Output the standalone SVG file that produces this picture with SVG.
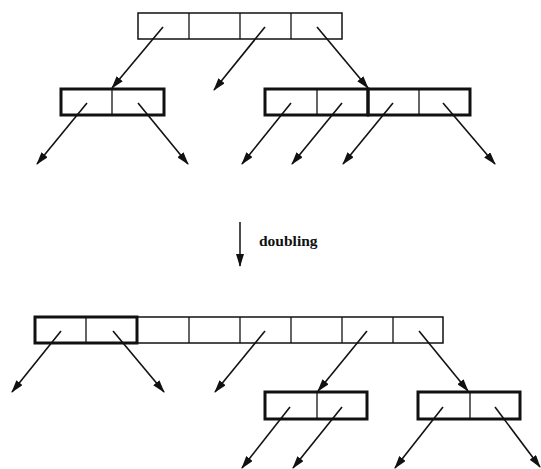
<svg xmlns="http://www.w3.org/2000/svg" width="541" height="469" viewBox="0 0 541 469">
<style>
.thin{fill:#fff;stroke:#111;stroke-width:1.5}
.thick{fill:none;stroke:#111;stroke-width:3}
.div{stroke:#111;stroke-width:1.3}
.edge{stroke:#111;stroke-width:1.6;fill:none;marker-end:url(#ah)}
.lbl{font-family:"Liberation Serif",serif;font-weight:bold;font-size:15.5px;fill:#111}
</style>
<defs>
<marker id="ah" markerUnits="userSpaceOnUse" markerWidth="13" markerHeight="8" refX="12" refY="4" orient="auto">
<path d="M0,0 L13,4 L0,8 z" fill="#111"/>
</marker>
</defs>
<rect width="541" height="469" fill="#fff"/>
<g id="top-directory">
<rect class="thin" x="138" y="13" width="204" height="26"/>
<line class="div" x1="189" y1="13" x2="189" y2="39"/>
<line class="div" x1="240" y1="13" x2="240" y2="39"/>
<line class="div" x1="291" y1="13" x2="291" y2="39"/>
</g>
<g id="bucket-left">
<rect class="thick" x="61" y="89" width="103" height="26"/>
<line class="div" x1="112" y1="89" x2="112" y2="115"/>
</g>
<g id="bucket-right-a">
<rect class="thick" x="265" y="89" width="103" height="26"/>
<line class="div" x1="317" y1="89" x2="317" y2="115"/>
</g>
<g id="bucket-right-b">
<rect class="thick" x="368" y="89" width="102" height="26"/>
<line class="div" x1="419" y1="89" x2="419" y2="115"/>
</g>
<g id="doubling">
<line x1="240" y1="222" x2="240" y2="266" stroke="#111" stroke-width="1.5" marker-end="url(#ah)"/>
<text class="lbl" x="259" y="246">doubling</text>
</g>
<g id="bottom-directory">
<rect class="thin" x="35" y="317" width="408" height="26"/>
<line class="div" x1="86" y1="317" x2="86" y2="343"/>
<line class="div" x1="189" y1="317" x2="189" y2="343"/>
<line class="div" x1="240" y1="317" x2="240" y2="343"/>
<line class="div" x1="291" y1="317" x2="291" y2="343"/>
<line class="div" x1="342" y1="317" x2="342" y2="343"/>
<line class="div" x1="393" y1="317" x2="393" y2="343"/>
<rect class="thick" x="35" y="317" width="102" height="26"/>
</g>
<g id="bucket-split-a">
<rect class="thick" x="265" y="392" width="102" height="27"/>
<line class="div" x1="317" y1="392" x2="317" y2="419"/>
</g>
<g id="bucket-split-b">
<rect class="thick" x="418" y="392" width="102" height="27"/>
<line class="div" x1="470" y1="392" x2="470" y2="419"/>
</g>
<g id="connectors">
<line class="edge" x1="163" y1="27" x2="112" y2="88"/>
<line class="edge" x1="265" y1="27" x2="214" y2="90"/>
<line class="edge" x1="317" y1="27" x2="368" y2="88"/>
<line class="edge" x1="87" y1="103" x2="37" y2="164"/>
<line class="edge" x1="138" y1="103" x2="188" y2="164"/>
<line class="edge" x1="291" y1="103" x2="242" y2="164"/>
<line class="edge" x1="342" y1="103" x2="292" y2="164"/>
<line class="edge" x1="393" y1="103" x2="343" y2="164"/>
<line class="edge" x1="443" y1="103" x2="495" y2="164"/>
<line class="edge" x1="61" y1="331" x2="12" y2="392"/>
<line class="edge" x1="113" y1="331" x2="164" y2="392"/>
<line class="edge" x1="265" y1="331" x2="215" y2="392"/>
<line class="edge" x1="367" y1="331" x2="318" y2="391"/>
<line class="edge" x1="419" y1="331" x2="468" y2="391"/>
<line class="edge" x1="290" y1="407" x2="242" y2="468"/>
<line class="edge" x1="342" y1="407" x2="293" y2="468"/>
<line class="edge" x1="443" y1="407" x2="395" y2="468"/>
<line class="edge" x1="495" y1="407" x2="540" y2="467"/>
</g>
</svg>
